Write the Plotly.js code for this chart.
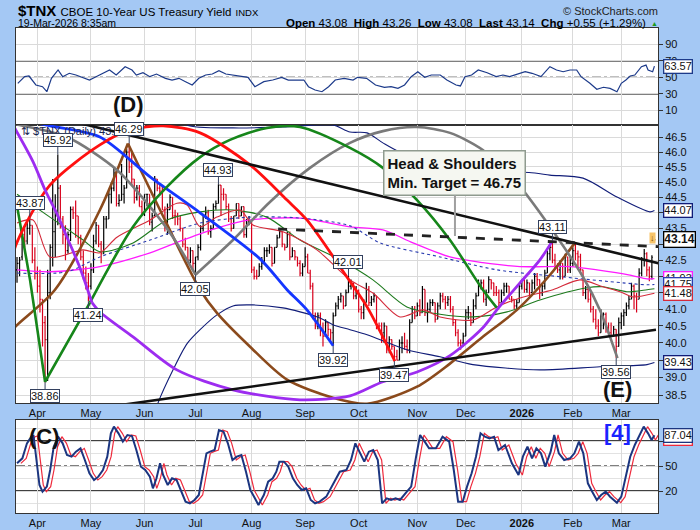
<!DOCTYPE html>
<html><head><meta charset="utf-8">
<script src="https://cdn.plot.ly/plotly-3.0.1.min.js"></script>
<style>html,body{margin:0;padding:0;background:#a4c8f4;}#chart{width:700px;height:530px;}</style>
</head><body><div id="chart"></div>
<script>
// ---------- x axis categories (trading-day index) ----------
const monthTicks  = [8,29,50,70,92,113,134,157,176,198,218,237];
const monthLabels = ['Apr','May','Jun','Jul','Aug','Sep','Oct','Nov','Dec','<b>2026</b>','Feb','Mar'];
const priceTicks  = [38.5,39,39.5,40,40.5,41,41.5,42,42.5,43,43.5,44,44.5,45,45.5,46,46.5];
const priceTickText = ['38.5','39.0','39.5','40.0','40.5','41.0','41.5','42.0','42.5','43.0','43.5','44.0','44.5','45.0','45.5','46.0','46.5'];

// ---------- daily OHLC ($TNX, Mar-20-2025 .. Mar-19-2026) ----------
const open = [42.2,42.4,42.6,43.3,43.1,43.5,43.6,42.5,42.1,41.7,
41.3,40.6,40.1,41.5,42.9,43.4,43.9,44.8,43.8,43.3,
42.8,43.3,44.1,44.0,43.9,43.2,42.6,42.1,41.8,41.7,
42.2,43.1,43.6,43.0,42.7,43.8,43.8,44.6,44.8,45.3,
44.3,44.4,44.6,44.8,46.0,45.5,45.1,44.5,44.8,44.2,
44.0,44.6,44.6,43.7,43.9,45.1,44.8,44.7,44.1,43.6,
44.1,44.5,43.9,43.9,43.8,43.5,43.0,42.9,42.5,42.8,
42.4,42.6,42.9,43.5,43.9,44.0,43.4,43.5,44.2,44.3,
44.9,44.6,44.6,44.2,43.8,43.5,43.9,44.3,43.9,44.2,
43.3,43.7,43.7,42.2,42.0,42.0,42.3,42.4,42.8,42.8,
42.9,42.4,42.9,43.2,43.4,43.0,42.9,43.3,42.6,42.8,
42.6,42.4,42.1,42.3,42.6,42.1,41.7,40.8,40.5,40.8,
40.4,40.2,40.6,40.4,40.3,40.8,41.1,41.3,41.4,41.1,
41.5,41.7,41.8,41.4,41.5,41.0,40.9,41.2,41.6,41.2,
41.3,41.4,40.5,40.5,40.3,40.5,39.8,40.1,39.9,39.6,
39.5,40.0,40.0,39.9,39.8,40.6,41.0,40.8,41.1,40.9,
41.6,40.9,41.0,41.2,41.2,40.7,41.1,41.4,41.3,41.2,
41.3,41.0,40.6,40.3,40.0,40.0,40.2,40.9,40.9,40.6,
41.1,41.4,41.7,41.8,41.3,41.5,41.9,41.8,41.5,41.5,
41.2,41.5,41.7,41.7,41.3,41.3,41.1,41.2,41.7,41.9,
41.6,41.8,41.5,41.8,42.0,41.9,41.5,41.7,42.1,42.7,
42.9,42.5,42.3,42.2,42.4,42.0,42.6,42.2,42.4,42.8,
42.7,42.6,42.2,41.5,41.6,41.3,41.0,40.7,40.5,40.3,
40.8,40.85,40.4,40.3,40.2,40.4,39.9,40.6,40.8,40.9,
41.1,41.3,41.7,41.4,41.3,42.1,42.5,42.7,42.2,42.0,
43.08];
const high = [42.6,42.6,43.5,43.5,43.7,43.87,43.6,42.9,42.3,42.2,
41.3,40.8,42.2,43.0,45.1,44.6,45.92,44.9,43.9,43.6,
43.4,44.2,44.2,44.4,43.9,43.3,42.8,42.3,42.1,42.4,
43.3,43.7,43.6,43.1,43.9,43.9,44.7,45.0,45.5,45.4,
44.6,45.6,44.9,46.1,46.29,46.0,45.1,44.9,44.9,44.4,
44.6,44.6,44.6,44.0,45.2,45.1,44.9,44.9,44.2,44.3,
44.6,44.5,44.1,44.0,43.9,43.5,43.2,42.9,42.9,42.8,
42.6,43.0,43.6,43.9,44.2,44.1,43.6,44.3,44.4,44.93,
44.9,44.8,44.6,44.3,43.9,43.9,44.3,44.3,44.2,44.2,
43.8,43.9,43.7,42.3,42.2,42.4,42.6,42.9,42.9,43.0,
42.9,42.9,43.3,43.5,43.4,43.0,43.4,43.4,42.9,42.8,
42.6,42.5,42.4,42.9,42.7,42.2,41.8,40.9,40.9,40.9,
40.6,40.7,40.6,40.4,40.9,41.2,41.4,41.5,41.4,41.6,
42.01,41.9,41.8,41.7,41.6,41.1,41.3,41.8,41.7,41.4,
41.5,41.4,40.6,40.6,40.6,40.5,40.2,40.1,39.9,39.8,
40.1,40.2,40.3,40.1,40.7,41.1,41.1,41.2,41.3,41.7,
41.6,41.2,41.3,41.3,41.2,41.2,41.5,41.5,41.4,41.4,
41.4,41.1,40.7,40.4,40.1,40.3,41.0,41.1,40.9,41.3,
41.5,41.9,41.9,41.9,41.6,42.0,41.9,41.8,41.7,41.6,
41.6,41.8,41.8,41.7,41.4,41.3,41.3,41.8,41.9,41.9,
41.9,41.8,41.9,42.1,42.1,41.9,41.8,42.2,42.8,43.0,
43.11,42.7,42.4,42.5,42.4,42.7,42.6,42.6,42.9,43.05,
42.8,42.7,42.2,41.7,41.7,41.5,41.1,41.0,40.7,41.0,
40.9,40.9,40.6,40.6,40.5,40.4,40.75,40.9,41.0,41.2,
41.4,41.8,41.75,41.5,42.25,42.6,42.85,42.75,42.3,42.65,
43.26];
const low = [41.8,42.0,42.5,42.9,43.0,43.3,42.4,41.9,41.5,40.9,
39.9,38.86,38.9,41.3,42.3,42.6,43.6,43.5,43.0,42.5,
42.7,43.1,43.8,43.2,43.0,42.5,41.9,41.6,41.24,41.6,
42.1,43.0,42.9,42.4,42.7,43.5,43.8,44.3,44.7,44.2,
44.2,44.4,44.3,44.8,45.3,44.9,44.3,44.4,44.2,43.9,
43.9,44.2,43.6,43.4,43.9,44.7,44.6,44.1,43.4,43.3,
44.1,43.8,43.6,43.6,43.4,42.9,42.8,42.4,42.4,42.2,
42.05,42.5,42.8,43.4,43.8,43.3,43.2,43.5,44.1,44.3,
43.9,44.4,44.1,43.7,43.4,43.5,43.9,43.8,43.9,43.2,
43.2,43.6,42.1,41.9,41.9,42.0,42.2,42.4,42.6,42.7,
42.3,42.4,42.9,43.2,42.9,42.8,42.9,42.5,42.6,42.5,
42.3,42.0,42.0,42.3,42.1,41.6,40.7,40.4,40.4,40.2,
39.9,40.2,40.2,40.0,39.92,40.8,41.0,41.2,41.0,41.1,
41.5,41.6,41.3,41.3,40.9,40.7,40.7,41.2,41.1,41.1,
41.2,40.4,40.4,40.0,40.0,39.7,39.7,39.8,39.47,39.5,
39.5,39.7,39.8,39.7,39.7,40.6,40.7,40.8,40.8,40.9,
40.8,40.6,40.9,41.1,40.6,40.7,41.0,41.2,41.0,41.1,
40.9,40.5,40.2,39.9,39.8,39.9,40.2,40.7,40.5,40.6,
41.0,41.4,41.6,41.2,41.1,41.5,41.6,41.4,41.4,41.1,
41.2,41.4,41.5,41.3,41.2,41.0,41.0,41.2,41.6,41.5,
41.5,41.4,41.5,41.6,41.7,41.3,41.4,41.6,42.1,42.5,
42.4,42.2,42.1,41.9,41.9,42.0,42.1,42.1,42.3,42.5,
42.2,42.1,41.4,41.3,41.2,40.9,40.6,40.4,40.2,40.3,
40.4,40.3,40.2,40.2,40.2,39.56,39.9,40.4,40.5,40.8,
41.0,41.3,41.0,40.9,41.3,42.0,42.3,42.0,41.85,41.9,
43.08];
const close = [42.4,42.5,43.3,43.1,43.5,43.6,42.5,42.1,41.7,41.3,
40.6,40.1,41.5,42.9,43.4,43.9,44.8,43.8,43.3,42.8,
43.3,44.1,44.0,43.9,43.2,42.6,42.1,41.8,41.7,42.2,
43.1,43.6,43.0,42.7,43.8,43.8,44.6,44.8,45.3,44.3,
44.4,44.6,44.8,46.0,45.5,45.1,44.5,44.8,44.2,44.0,
44.6,44.6,43.7,43.9,45.1,44.8,44.7,44.1,43.6,44.1,
44.5,43.9,43.9,43.8,43.5,43.0,42.9,42.5,42.8,42.4,
42.6,42.9,43.5,43.9,44.0,43.4,43.5,44.2,44.3,44.9,
44.6,44.6,44.2,43.8,43.5,43.9,44.3,43.9,44.2,43.3,
43.7,43.7,42.2,42.0,42.0,42.3,42.4,42.8,42.8,42.9,
42.4,42.9,43.2,43.4,43.0,42.9,43.3,42.6,42.8,42.6,
42.4,42.1,42.3,42.6,42.1,41.7,40.8,40.5,40.8,40.4,
40.2,40.6,40.4,40.3,40.8,41.1,41.3,41.4,41.1,41.5,
41.7,41.8,41.4,41.5,41.0,40.9,41.2,41.6,41.2,41.3,
41.4,40.5,40.5,40.3,40.5,39.8,40.1,39.9,39.6,39.5,
40.0,40.0,39.9,39.8,40.6,41.0,40.8,41.1,40.9,41.6,
40.9,41.0,41.2,41.2,40.7,41.1,41.4,41.3,41.2,41.3,
41.0,40.6,40.3,40.0,40.0,40.2,40.9,40.9,40.6,41.1,
41.4,41.7,41.8,41.3,41.5,41.9,41.8,41.5,41.5,41.2,
41.5,41.7,41.7,41.3,41.3,41.1,41.2,41.7,41.9,41.6,
41.8,41.5,41.8,42.0,41.9,41.5,41.7,42.1,42.7,42.9,
42.5,42.3,42.2,42.4,42.0,42.6,42.2,42.4,42.8,42.7,
42.6,42.2,41.5,41.6,41.3,41.0,40.7,40.5,40.3,40.8,
40.85,40.4,40.3,40.2,40.4,39.9,40.6,40.8,40.9,41.1,
41.3,41.7,41.4,41.3,42.1,42.5,42.7,42.2,42.0,42.59,
43.14];

// ---------- overlays (index, value) ----------
const bbUpperX = [63,66.7,84.7,104.3,123.9,130.6,137.3,143.5,150.2,169.8,203.1,209,222,235.3,248.2,250];
const bbUpper  = [47.3,46.92,46.82,46.85,46.92,46.68,46.65,46.31,46.00,45.5,45.30,45.23,45.13,44.51,44.03,44.07];
const bbLowerX = [52,55.3,61.2,66.7,71.8,78.4,84.7,92.5,104.3,111,118.8,123.9,130.6,137.3,152.9,165.9,178.8,205.1,228.6,247.1,250];
const bbLower  = [37.5,38.28,39.22,39.98,40.39,40.83,41.10,41.13,41.04,40.92,40.74,40.54,40.39,40.24,39.80,39.60,39.37,39.22,39.31,39.37,39.43];
const ma200X = [0,12.9,32.5,52.2,65.1,78.4,91.4,111,130.6,143.5,155.3,169.8,182.7,197.3,216.9,227.5,240.4,247.1,250];
const ma200  = [42.20,42.14,42.30,42.73,43.13,43.51,43.77,43.83,43.55,43.45,43.04,42.60,42.42,42.30,42.30,42.20,42.04,41.92,41.93];
const ma150X = [0,19.6,32.5,52.2,71.8,91.4,111,130.6,142.4,165.9,188.2,214.1,237.6,247.1,250];
const ma150  = [42.10,42.14,42.60,43.13,43.67,43.86,43.83,43.58,43.04,42.60,42.20,41.98,41.80,41.74,41.75];
const ma50X = [0,12.9,25.9,32.5,45.5,58.8,71.8,84.7,98,111,126.7,139.6,152.9,165.9,178.8,192.2,205.1,223.5,229.8,239.2,247.1,250];
const ma50  = [44.60,43.86,43.13,42.76,43.04,43.77,44.03,44.09,43.86,43.13,42.51,41.89,41.07,40.85,40.77,40.92,41.28,41.65,41.68,41.53,41.59,41.62];
const ma20X = [0,6.3,12.9,25.9,32.5,39.2,52.2,62.7,66.7,71.8,78.4,87.5,92.5,104.3,117.6,130.6,139.6,150.2,159.2,165.9,178.8,188.2,197.3,210.2,220.8,229.8,236.5,241.6,250];
const ma20  = [43.67,43.77,42.60,42.82,42.73,43.22,43.77,44.31,44.25,43.55,43.86,44.09,43.61,43.39,42.82,41.89,41.49,40.77,40.98,40.77,40.68,41.07,41.34,41.59,41.89,41.68,41.53,41.37,41.48];

// ---------- RSI(14) ----------
const rsiX = [0.3,3,4.7,7.4,10,11.7,13.5,16.1,17.9,20.5,23.1,25.8,28.4,31,33.7,36.3,38.9,42.4,45.1,46.8,49.4,52.1,54.7,58.2,60.8,63.5,66.1,68.7,71.3,74,76.6,79.2,81.9,84.5,88,90.6,93.3,96.8,100.3,103.8,106.4,109,112.5,114.3,116.9,119.6,122.2,124.8,128.3,131.8,133.6,137.1,140.6,144.1,146.7,149.4,152,154.6,157.2,159.9,162.5,166,168.6,172.2,173.9,175.7,178.3,180.9,184.4,187.9,190.6,193.2,196.7,199.3,202,205.5,209,211.6,214.2,216.9,219.5,221.2,224.7,227.4,230,232.6,235.3,237,238.8,240.5,242.3,244.9,246.7,247.5,249.3,250];
const rsi  = [42.7,50.8,51.6,40.7,38.6,32.5,48.8,59,50.8,54.9,52.8,50,46.7,50.8,54.9,58.9,52.8,62.9,58.9,52.8,55.6,50.8,54,48.8,46.7,48.8,44.7,40.7,48.8,52.8,54,58.1,54,52.8,50.8,50,38.6,44.7,46.7,50,46.7,46.7,46.7,38.6,34.6,32.5,38.6,46.7,48.8,46.7,50,48.8,40.7,37.9,38.6,36.6,40.7,50.8,56.8,50,52.8,52.8,46.7,40.7,39.5,50.8,52.8,58.9,55.6,50.8,52.8,50.8,54,56.8,54.9,50.8,62.9,58.9,56.8,58.9,58.9,50.8,42.7,35.4,37.9,36.6,32.5,42.7,46.7,51.6,52.8,62.9,64.9,58.9,56.8,63.57];

// ---------- Full stochastics %K ----------
const stochX = [0,2.1,3.9,5.6,6.5,7.7,8.8,10,11.7,13,14.4,16.1,17.9,19.6,21.4,23.1,24.9,26.6,28.4,30.2,31.9,33.7,35.4,36.8,38,39.8,41.5,43.3,45.1,46.8,48.6,50.3,52.1,53.3,54.7,56.1,57.3,59.1,60.8,62.6,64.3,66.1,67.8,69.6,71.3,73.1,74.3,75.7,77.5,79.2,81,82.7,84.5,86.2,88,89.8,91.5,93.3,94.7,96.8,98.5,100.3,101.7,102.9,104.7,106.4,108.2,109.9,111.7,113.4,115.2,116.9,118.7,121.3,123.9,126.6,129.2,131,132.7,134.5,136.2,138,139.7,141.5,143.2,145,146.7,148.5,150.2,152.9,154.6,156.4,158.1,159.9,161.6,164.3,166.9,169.5,171.3,173,174.8,176.5,178.3,180,181.8,183.5,185.3,187.1,188.8,191.4,194.1,196.7,198.4,200.2,202,203.7,205.5,207.2,209.3,210.7,212.5,214.6,216.9,218.6,220.4,222.1,223.9,225.6,227.4,229.1,230.9,232.6,235.3,237,238.8,240.5,242.3,244,245.8,247.5,248.9,250];
const stochK = [53.2,59.2,77.2,85.2,86,57,27.2,19.2,25.2,45.2,73.2,85.2,77.2,63.2,61.2,67.2,71.2,57.2,41.2,33.2,37.2,45.2,61.2,89.2,97.2,89.2,79.2,87.2,86,69.2,49.2,45.2,37.2,23.2,35.2,53.2,39.2,27.2,35.2,33.2,21.2,7.2,5.2,9.2,15.2,45.2,65.2,67.2,69.2,93.2,91.2,77.2,57.2,61.2,63.2,43.2,21.2,11.2,3.2,15.2,31.2,35.2,43.2,55.2,55.2,49.2,35.2,27.2,21.2,23.2,9.2,5.2,7.2,13.2,27.2,43.2,45.2,57.2,77.2,65.2,55.2,67.2,69.2,57.2,5.2,11.2,9.2,11.2,9.2,19.2,25.2,59.2,87.2,79.2,71.2,71.2,85.2,79.2,45.2,7.2,7.2,25.2,41.2,61.2,89.2,85.2,83.2,85.2,69.2,75.2,53.2,39.2,61.2,73.2,59.2,71.2,65.2,49.2,67.2,87.2,65.2,57.2,59.2,65.2,79.2,65.2,29.2,19.2,9.2,15.2,19.2,13.2,6,13.2,37.2,61.2,75.2,85.2,97.2,89.2,81.2,87.04];
const stochDLag = 1.5; // %D trails %K by about one and a half sessions on the chart

// ---------- analyst drawings (index, value) ----------
const tlUpperX = [-6.67,259.2], tlUpper = [47.65,42.26];
const tlLowerX = [-6.67,250.6], tlLower = [37.75,40.39];
const neckX = [102.4,254.9], neck = [43.48,42.91];
const arcRedX = [-4,-0.4,12.9,32.5,44.3,57.3,71.8,91.4,105.9,113.7,129.4,137.3,148.2];
const arcRed  = [41.8,42.98,44.90,46.24,46.75,46.89,46.65,45.57,44.41,43.77,41.98,41.07,39.47];
const arcGreenX = [28.6,45.5,58.8,71.8,83.5,98,111,130.6,143.5,156.9,169.8,182.7,188.2];
const arcGreen  = [41.2,43.55,44.84,45.83,46.41,46.82,46.85,46.14,45.47,44.41,43.13,41.59,41.04];
const arcGreen2X = [-0.4,5.1,11.0,28.6];
const arcGreen2  = [44.41,41.89,38.88,41.2];
const arcPurpleX = [-1.6,6.3,11.0,15.7,19.6,24.7,29.4];
const arcPurple  = [46.92,45.67,44.74,43.96,43.22,42.26,41.2];
const arcPurple2X = [29.4,32.5,45.5,62.7,84.7,111,130.6,143.5,156.9,169.8,182.7,188.2,197.3,205.1,209.8];
const arcPurple2  = [41.2,40.92,40.18,39.22,38.65,38.37,38.48,38.88,39.16,39.63,40.45,40.98,41.80,42.51,43.08];
const arcBrownX = [-6.7,-0.4,14.9,32.5,43.5];
const arcBrown  = [40.0,40.5,41.59,44.09,46.29];
const arcBrown2X = [43.5,56.1,71.8,78.4,91.4,105.9,123.9,137.3,156.9,169.8,182.7,196.1,209,218.8];
const arcBrown2  = [46.29,44.09,41.59,40.89,39.89,38.94,38.43,38.26,38.74,39.40,40.18,40.98,42.04,43.04];
const arcGrayX = [-6.7,-0.4,19.6,39.2,52.2,61.2,70];
const arcGray  = [47.09,46.95,46.51,45.40,44.19,43.22,42.05];
const arcGray2X = [70,84.7,99.2,114.9,130.6,143.5,156.9,169.8,182.7,196.1,209,222,228.6,235.5];
const arcGray2  = [42.05,43.13,44.35,45.47,46.31,46.71,46.85,46.65,46.07,44.97,43.55,41.98,40.98,39.56];
const arcBlueX = [-6.7,-0.4,12.9,32.5,52.2,71.8,95.3,105.9,113.7,124];
const arcBlue  = [47.2,47.13,46.89,46.51,45.17,44.0,42.54,41.59,40.98,39.92];

// labelled highs / lows
const markX   = [5,16,44,79,70,28,11,130,124,148,210,235];
const markV   = [43.87,45.92,46.29,44.93,42.05,41.24,38.86,42.01,39.92,39.47,43.11,39.56];
const markDir = [1,1,1,1,-1,-1,-1,1,-1,-1,1,-1];

// ---------- page geometry ----------
const PL=16, PR=658, PT=28, PB=513, MAINBOT=403, MAINTOP=125;
const px = x => (x-PL)/(PR-PL);
const py = y => (PB-y)/(PB-PT);
const FONT = 'Liberation Sans, Arial, sans-serif';
const lg = v => Math.log10(v);
const last = a => a[a.length-1];
const idx = close.map((_, k) => k);
const yLo = 38.28, yHi = 46.92;

const traces = [];
// RSI
traces.push({type:'scatter',mode:'lines',x:rsiX,y:rsi,xaxis:'x',yaxis:'y',line:{color:'#1c3a8a',width:1.2},hoverinfo:'skip'});
// stochastics
traces.push({type:'scatter',mode:'lines',x:stochX.map(v=>v+stochDLag),y:stochK,xaxis:'x3',yaxis:'y3',line:{color:'#ee2a3c',width:1.2},hoverinfo:'skip'});
traces.push({type:'scatter',mode:'lines',x:stochX,y:stochK,xaxis:'x3',yaxis:'y3',line:{color:'#1b3580',width:2},hoverinfo:'skip'});
// overlays
function ov(x,y,color,width,dash,shape){traces.push({type:'scatter',mode:'lines',x:x,y:y,xaxis:'x2',yaxis:'y2',line:{color:color,width:width,dash:dash||'solid',shape:shape||'spline',smoothing:0.8},hoverinfo:'skip'});}
ov(bbUpperX,bbUpper,'#101c78',1.1);
ov(bbLowerX,bbLower,'#101c78',1.1);
ov(ma200X,ma200,'#ff1aff',1.3);
ov(ma150X,ma150,'#2a3cb0',1.1,'dot');
ov(ma50X,ma50,'#1d7a1d',1.1);
ov(ma20X,ma20,'#d42a3a',1.1);
// price bars
traces.push({type:'ohlc',x:idx,open:open,high:high,low:low,close:close,xaxis:'x2',yaxis:'y2',
  increasing:{line:{color:'#000000',width:1.2}},decreasing:{line:{color:'#d8001c',width:1.2}},tickwidth:0.4,hoverinfo:'skip'});
// drawings
ov(arcBrownX,arcBrown,'#8b4a1c',2.6);
ov(arcBrown2X,arcBrown2,'#8b4a1c',2.6);
ov(arcGrayX,arcGray,'#7a7a7a',2.6);
ov(arcGray2X,arcGray2,'#7a7a7a',2.6);
ov(arcBlueX,arcBlue,'#1536ff',2.8);
ov(arcGreen2X,arcGreen2,'#16861a',2.6,'solid','linear');
ov(arcGreenX,arcGreen,'#16861a',2.6);
ov(arcRedX,arcRed,'#ff1010',2.8);
ov(arcPurpleX,arcPurple,'#9d2cf0',2.8);
ov(arcPurple2X,arcPurple2,'#9d2cf0',2.8);
ov(tlUpperX,tlUpper,'#111111',2.6,'solid','linear');
ov(tlLowerX,tlLower,'#111111',2.6,'solid','linear');
ov(neckX,neck,'#222222',2.8,'dash','linear');

// ---------- annotations ----------
const ann = [];
ann.push({xref:'paper',yref:'paper',x:px(16),y:py(11),xanchor:'left',yanchor:'middle',showarrow:false,
  text:'<b>$TNX</b> <span style="font-size:11.5px">CBOE 10-Year US Treasury Yield</span> <span style="font-size:9.5px">INDX</span>',
  font:{family:FONT,size:15,color:'#000'}});
ann.push({xref:'paper',yref:'paper',x:px(16),y:py(23),xanchor:'left',yanchor:'middle',showarrow:false,
  text:'19-Mar-2026 8:35am',font:{family:FONT,size:10.5,color:'#000'}});
ann.push({xref:'paper',yref:'paper',x:px(660),y:py(11),xanchor:'right',yanchor:'middle',showarrow:false,
  text:'© StockCharts.com',font:{family:FONT,size:11,color:'#222'}});
const prev = close[close.length-2];
const chg = last(close)-prev;
const SP = '&nbsp;';
ann.push({xref:'paper',yref:'paper',x:px(648),y:py(23),xanchor:'right',yanchor:'middle',showarrow:false,
  text:'<b>Open</b>'+SP+last(open).toFixed(2)+SP+SP+'<b>High</b>'+SP+last(high).toFixed(2)+SP+SP+'<b>Low</b>'+SP+last(low).toFixed(2)+SP+SP+'<b>Last</b>'+SP+last(close).toFixed(2)+SP+SP+'<b>Chg</b>'+SP+'+'+chg.toFixed(2)+SP+'(+'+(chg/prev*100).toFixed(2)+'%)',
  font:{family:FONT,size:11.5,color:'#000'}});
ann.push({xref:'paper',yref:'paper',x:px(649),y:py(23),xanchor:'left',yanchor:'middle',showarrow:false,
  text:'▲',font:{family:FONT,size:7,color:'#1a9a1a'}});
ann.push({xref:'paper',yref:'paper',x:px(19),y:py(131),xanchor:'left',yanchor:'middle',showarrow:false,
  text:'⇅ $TNX (Daily) '+last(close).toFixed(2),font:{family:FONT,size:11,color:'#1a2650'}});
// big wave letters
function big(x,y,t,c){ann.push({xref:'paper',yref:'paper',x:px(x),y:py(y),xanchor:'center',yanchor:'middle',showarrow:false,text:'<b>'+t+'</b>',font:{family:FONT,size:22,color:c||'#111'}});}
big(128,104,'(D)'); big(44,436,'(C)'); big(617,389,'(E)'); big(617,432,'[4]','#1a22ff');
// high/low labels
markX.forEach((x,k)=>{ann.push({xref:'x2',yref:'y2',x:x,y:lg(markV[k]),text:markV[k].toFixed(2),showarrow:true,arrowhead:0,arrowwidth:1,arrowcolor:'#33405e',
  ax:0,ay:markDir[k]>0?-14:14,standoff:0,font:{family:FONT,size:11,color:'#111'},bgcolor:'#ffffff',bordercolor:'#33405e',borderwidth:1,borderpad:0});});
// callout
ann.push({xref:'x2',yref:'y2',x:(455-17)/2.55,y:lg(43.26),ax:0,ay:-63,showarrow:true,arrowhead:0,arrowwidth:2,arrowcolor:'#a0a0a0',standoff:0,
  text:'<b>Head &amp; Shoulders<br>Min. Target = 46.75</b>',align:'left',font:{family:FONT,size:15,color:'#111'},
  bgcolor:'#f5f7f1',bordercolor:'#8f9b8f',borderwidth:1.5,borderpad:3});
// right-edge value tags (last value of each line)
const tagList = [
  {yref:'y2',v:last(bbUpper),col:'#101c78'},
  {yref:'y2',v:last(ma200),col:'#ff1aff'},
  {yref:'y2',v:last(ma150),col:'#2a3cb0'},
  {yref:'y2',v:last(ma20),col:'#d42a3a'},
  {yref:'y2',v:last(bbLower),col:'#101c78'},
  {yref:'y2',v:last(close),col:'#000',bold:true,size:12},
  {yref:'y',v:last(rsi),col:'#1c3a8a'},
  {yref:'y3',v:83.5,txt:'85.21',col:'#ee2a3c'},
  {yref:'y3',v:last(stochK),col:'#1b3580'}
];
tagList.forEach(t=>{const txt=t.txt||t.v.toFixed(2);ann.push({xref:'paper',yref:t.yref,x:px(663),y:t.yref==='y2'?lg(t.v):t.v,xanchor:'left',yanchor:'middle',showarrow:false,
  text:t.bold?'<b>'+txt+'</b>':txt,font:{family:FONT,size:t.size||11,color:'#111'},bgcolor:'#ffffff',bordercolor:t.col,borderwidth:1.3,borderpad:0});});
ann.push({xref:'x2',yref:'y2',x:250,y:lg(43.2),showarrow:false,xshift:-2,text:'↓',font:{family:FONT,size:9,color:'#7a4a00'},bgcolor:'#f7c46a',borderpad:0});

// tick labels that sit under a value tag are hidden, as on the chart
const pxPerLog = (MAINBOT-MAINTOP)/(lg(yHi)-lg(yLo));
const mainTags = tagList.filter(t=>t.yref==='y2').map(t=>t.v);
const mainTickText = priceTicks.map((t,k)=>mainTags.some(v=>Math.abs(lg(t)-lg(v))*pxPerLog<7.5)?'':priceTickText[k]);
const stochTicks = [20,50,80];
const stochTickText = stochTicks.map(t=>Math.abs(t-last(stochK))*93/111.6<8?'':String(t));

// ---------- reference lines ----------
const shapes = [];
function hl(yref,v,dash,w){shapes.push({type:'line',xref:'paper',yref:yref,x0:0,x1:1,y0:v,y1:v,line:{color:'#000',width:w||1.4,dash:dash||'solid'},layer:'below'});}
hl('y',70); hl('y',30); hl('y',50,'dashdot',1.2);
hl('y3',80); hl('y3',20); hl('y3',50,'dashdot',1.2);

const xBase = {range:[-0.4,251.4],tickvals:monthTicks,ticktext:monthLabels,showgrid:true,gridcolor:'#dadada',gridwidth:1,
  showline:true,mirror:true,linecolor:'#333',linewidth:1,ticks:'',zeroline:false,tickfont:{family:FONT,size:11,color:'#111'},
  rangeslider:{visible:false}};
const yBase = {side:'right',showgrid:true,gridcolor:'#dadada',showline:true,mirror:true,linecolor:'#333',linewidth:1,
  ticks:'outside',ticklen:4,tickcolor:'#333',zeroline:false,tickfont:{family:FONT,size:11,color:'#111'}};

const layout = {
  width:700,height:530,margin:{l:PL,r:700-PR,t:PT,b:530-PB},
  paper_bgcolor:'#a4c8f4',plot_bgcolor:'#ffffff',showlegend:false,hovermode:false,
  xaxis:Object.assign({},xBase,{anchor:'y',showticklabels:false}),
  xaxis2:Object.assign({},xBase,{anchor:'y2',showticklabels:true}),
  xaxis3:Object.assign({},xBase,{anchor:'y3',showticklabels:true}),
  yaxis:Object.assign({},yBase,{domain:[(PB-MAINTOP)/(PB-PT),1],range:[-8,110],tickvals:[10,30,50,70,90]}),
  yaxis2:Object.assign({},yBase,{domain:[(PB-MAINBOT)/(PB-PT),(PB-MAINTOP)/(PB-PT)],type:'log',range:[lg(yLo),lg(yHi)],tickvals:priceTicks,ticktext:mainTickText}),
  yaxis3:Object.assign({},yBase,{domain:[0,(PB-420)/(PB-PT)],range:[-6.4,105.2],tickvals:stochTicks,ticktext:stochTickText,
    minor:{tickvals:[5,35,65,95],showgrid:true,gridcolor:'#e2e2e2',ticks:''}}),
  annotations:ann,shapes:shapes
};
Plotly.newPlot('chart',traces,layout,{staticPlot:true,displayModeBar:false});
</script></body></html>
